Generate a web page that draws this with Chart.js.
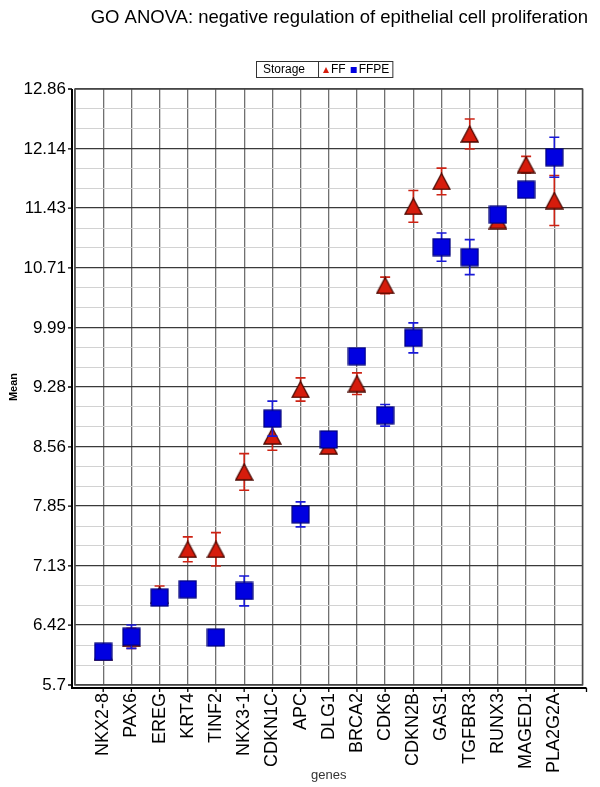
<!DOCTYPE html>
<html>
<head>
<meta charset="utf-8">
<title>GO ANOVA</title>
<script src="https://cdn.jsdelivr.net/npm/chart.js@4.4.1/dist/chart.umd.min.js"></script>
<style>
  html, body { margin: 0; padding: 0; background: #fff; }
  canvas { display: block; }
</style>
</head>
<body>
<canvas id="chart" width="600" height="787"></canvas>
<script>
// values
const genes = ['NKX2-8', 'PAX6', 'EREG', 'KRT4', 'TINF2', 'NKX3-1', 'CDKN1C', 'APC', 'DLG1',
  'BRCA2', 'CDK6', 'CDKN2B', 'GAS1', 'TGFBR3', 'RUNX3', 'MAGED1', 'PLA2G2A'];
const ffMean = [6.10, 6.26, 6.78, 7.33, 7.33, 8.26, 8.69, 9.25, 8.57, 9.32, 10.50, 11.45, 11.75, 12.32, 11.28, 11.95, 11.52];
const ffErr = [0.05, 0.12, 0.11, 0.15, 0.20, 0.22, 0.17, 0.14, 0.08, 0.13, 0.10, 0.19, 0.16, 0.18, 0.08, 0.10, 0.30];
const ffpeMean = [6.10, 6.28, 6.75, 6.85, 6.27, 6.83, 8.90, 7.75, 8.65, 9.65, 8.94, 9.87, 10.96, 10.84, 11.35, 11.65, 12.04];
const ffpeErr = [0.05, 0.14, 0.06, 0.07, 0.08, 0.18, 0.21, 0.15, 0.07, 0.08, 0.13, 0.18, 0.17, 0.21, 0.07, 0.07, 0.24];
const yTickLabels = ['5.7', '6.42', '7.13', '7.85', '8.56', '9.28', '9.99', '10.71', '11.43', '12.14', '12.86'];

const FONT = "'Liberation Sans', Arial, sans-serif";
Chart.defaults.font.family = FONT;
Chart.defaults.color = '#000';

const red = 'rgb(214,28,12)';
const blue = 'rgb(0,0,225)';

// marker images
function makeTriangle() {
  const c = document.createElement('canvas');
  c.width = 19; c.height = 18;
  const g = c.getContext('2d');
  g.beginPath();
  g.moveTo(9.5, 1); g.lineTo(18, 17); g.lineTo(1, 17); g.closePath();
  g.fillStyle = red; g.fill();
  g.strokeStyle = '#4a0800'; g.lineWidth = 1.3; g.stroke();
  return c;
}
function makeSquare() {
  const c = document.createElement('canvas');
  c.width = 19; c.height = 19;
  const g = c.getContext('2d');
  g.fillStyle = blue; g.fillRect(1, 1, 17, 17);
  g.strokeStyle = '#00007a'; g.lineWidth = 1.2; g.strokeRect(1, 1, 17, 17);
  return c;
}

const yMajors = yTickLabels.map(Number);
const isMajor = v => yMajors.some(m => Math.abs(m - v) < 1e-6);

// error bars drawn just before each dataset's markers
const errorBars = {
  id: 'errorBars',
  beforeDatasetDraw(chart, args) {
    const ds = chart.data.datasets[args.index];
    const xs = chart.scales.x, ys = chart.scales.y;
    const ctx = chart.ctx;
    ctx.save();
    ctx.strokeStyle = ds.errColor;
    ctx.lineWidth = 1.6;
    ds.data.forEach((p, i) => {
      const px = xs.getPixelForValue(p.x);
      const t = ys.getPixelForValue(p.y + ds.errors[i]);
      const b = ys.getPixelForValue(p.y - ds.errors[i]);
      ctx.beginPath();
      ctx.moveTo(px, t); ctx.lineTo(px, b);
      ctx.moveTo(px - 5, t); ctx.lineTo(px + 5, t);
      ctx.moveTo(px - 5, b); ctx.lineTo(px + 5, b);
      ctx.stroke();
    });
    ctx.restore();
  }
};

// frame round the plot and the offset axis lines
const frame = {
  id: 'frame',
  afterDraw(chart) {
    const ctx = chart.ctx;
    const a = chart.chartArea;
    const xs = chart.scales.x, ys = chart.scales.y;
    ctx.save();
    ctx.strokeStyle = '#4a4a4a';
    ctx.lineWidth = 1.5;
    ctx.strokeRect(a.left, a.top, a.right - a.left, a.bottom - a.top);
    ctx.strokeStyle = '#000';
    ctx.lineWidth = 2;
    const ax = a.left - 3, ay = a.bottom + 3;
    ctx.beginPath();
    ctx.moveTo(ax, a.top); ctx.lineTo(ax, ay);
    ctx.lineTo(a.right + 4, ay);
    ctx.stroke();
    ctx.lineWidth = 1.3;
    ctx.beginPath();
    yMajors.forEach(v => {
      const py = ys.getPixelForValue(v);
      ctx.moveTo(ax - 4, py); ctx.lineTo(ax, py);
    });
    genes.forEach((g, i) => {
      const px = xs.getPixelForValue(i + 1);
      ctx.moveTo(px, ay); ctx.lineTo(px, ay + 4);
    });
    ctx.moveTo(a.right + 4, ay); ctx.lineTo(a.right + 4, ay + 4);
    ctx.stroke();
    ctx.restore();
  }
};

// boxed legend: "Storage" | marker FF marker FFPE
const storageLegend = {
  id: 'storageLegend',
  afterDraw(chart) {
    const ctx = chart.ctx;
    const a = chart.chartArea;
    ctx.save();
    ctx.font = '12px ' + FONT;
    const head = 'Storage';
    const dsets = chart.data.datasets;
    const wHead = ctx.measureText(head).width;
    const cell1 = wHead + 20;
    let cell2 = 5;
    dsets.forEach((d, i) => { cell2 += 8 + ctx.measureText(d.label).width + (i < dsets.length - 1 ? 5 : 3); });
    const total = cell1 + cell2;
    const left = Math.round((a.left + a.right) / 2 - 5 - total / 2);
    const top = 61, h = 16;
    ctx.fillStyle = '#fff';
    ctx.fillRect(left, top, total, h);
    ctx.strokeStyle = '#333';
    ctx.lineWidth = 1;
    ctx.strokeRect(left + 0.5, top + 0.5, total, h);
    ctx.beginPath();
    ctx.moveTo(left + cell1 + 0.5, top); ctx.lineTo(left + cell1 + 0.5, top + h);
    ctx.stroke();
    ctx.fillStyle = '#000';
    ctx.textBaseline = 'middle';
    ctx.fillText(head, left + 7, top + h / 2 + 1);
    let x = left + cell1 + 5;
    const my = top + h / 2 + 1;
    dsets.forEach(d => {
      ctx.fillStyle = d.markColor;
      ctx.beginPath();
      if (d.label === 'FF') {
        ctx.moveTo(x + 3, my - 3); ctx.lineTo(x + 6, my + 3); ctx.lineTo(x, my + 3); ctx.closePath();
      } else {
        ctx.rect(x, my - 3, 6, 6);
      }
      ctx.fill();
      x += 8;
      ctx.fillStyle = '#000';
      ctx.fillText(d.label, x, top + h / 2 + 1);
      x += ctx.measureText(d.label).width + 5;
    });
    ctx.restore();
  }
};

new Chart(document.getElementById('chart'), {
  type: 'scatter',
  data: {
    datasets: [
      {
        label: 'FF',
        data: genes.map((g, i) => ({ x: i + 1, y: ffMean[i] })),
        errors: ffErr,
        errColor: 'rgb(205,35,20)',
        markColor: red,
        pointStyle: makeTriangle(),
        order: 2
      },
      {
        label: 'FFPE',
        data: genes.map((g, i) => ({ x: i + 1, y: ffpeMean[i] })),
        errors: ffpeErr,
        errColor: 'rgb(25,25,215)',
        markColor: blue,
        pointStyle: makeSquare(),
        order: 1
      }
    ]
  },
  options: {
    responsive: false,
    animation: false,
    layout: { padding: { top: 0, right: 12, bottom: 0, left: 0 } },
    plugins: {
      legend: { display: false },
      tooltip: { enabled: false },
      title: {
        display: true,
        text: 'GO ANOVA: negative regulation of epithelial cell proliferation',
        align: 'end',
        color: '#000',
        font: { size: 18.5, weight: 'normal' },
        padding: { top: 7, bottom: 59.8 }
      }
    },
    scales: {
      x: {
        type: 'linear',
        min: 0,
        max: 18,
        afterBuildTicks: s => { s.ticks = genes.map((g, i) => ({ value: i + 1 })).concat([{ value: 0 }, { value: 18 }]).sort((p, q) => p.value - q.value); },
        afterFit: s => { s.height = 102; s.paddingRight = 17.5; s.paddingLeft = 0; },
        ticks: {
          autoSkip: false,
          minRotation: 90,
          maxRotation: 90,
          padding: 8,
          font: { size: 18 },
          color: '#000',
          callback: v => genes[v - 1] || ''
        },
        grid: { color: '#707070', lineWidth: 1.3, drawTicks: false },
        border: { display: false },
        title: {
          display: true,
          text: 'genes',
          color: '#333',
          font: { size: 13 },
          padding: { top: 0, bottom: 4 }
        }
      },
      y: {
        type: 'linear',
        min: 5.7,
        max: 12.86,
        afterBuildTicks: s => {
          const t = [];
          yMajors.forEach((m, i) => {
            t.push({ value: m });
            if (i < yMajors.length - 1) {
              const step = (yMajors[i + 1] - m) / 3;
              t.push({ value: m + step }, { value: m + 2 * step });
            }
          });
          s.ticks = t;
        },
        afterFit: s => { s.width = 75; },
        ticks: {
          autoSkip: false,
          padding: 9,
          font: { size: 17 },
          color: '#000',
          callback: v => {
            const k = yMajors.findIndex(m => Math.abs(m - v) < 1e-6);
            return k >= 0 ? yTickLabels[k] : '';
          }
        },
        grid: {
          color: c => isMajor(c.tick.value) ? '#3a3a3a' : '#d2d2d2',
          lineWidth: c => isMajor(c.tick.value) ? 1.2 : 1,
          drawTicks: false
        },
        border: { display: false },
        title: {
          display: true,
          text: 'Mean',
          color: '#000',
          font: { size: 11, weight: 'bold' },
          padding: { top: 7, bottom: 0 }
        }
      }
    }
  },
  plugins: [errorBars, frame, storageLegend]
});
</script>
</body>
</html>
